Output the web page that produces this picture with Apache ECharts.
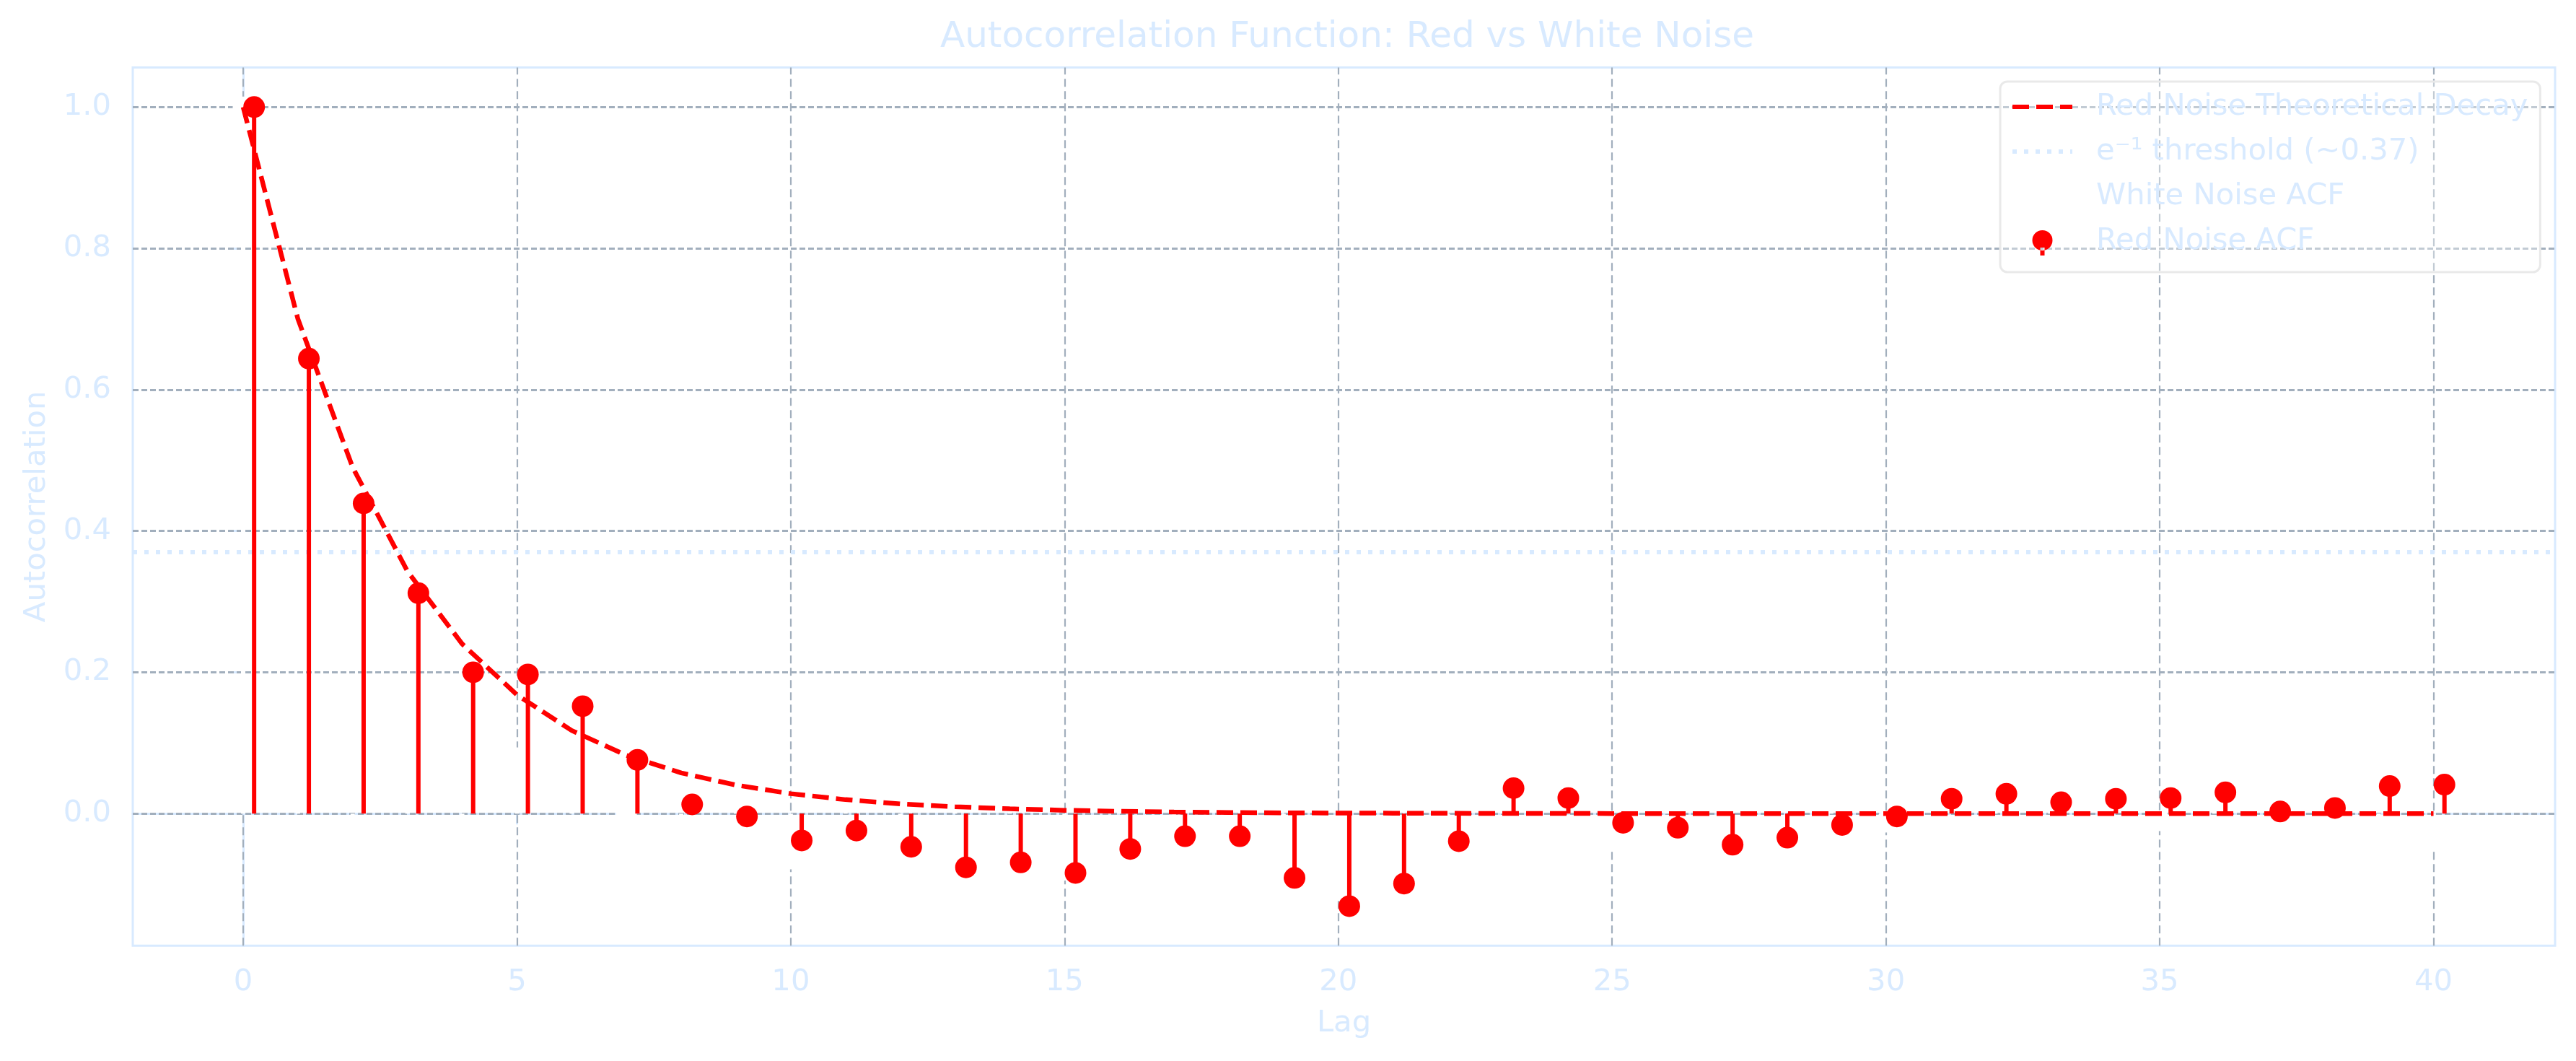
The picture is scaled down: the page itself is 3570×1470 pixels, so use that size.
<!DOCTYPE html>
<html>
<head>
<meta charset="utf-8">
<script src="https://cdn.jsdelivr.net/npm/echarts@6/dist/echarts.min.js"></script>
<style>
html,body{margin:0;padding:0;background:#ffffff;}
#chart{width:3570px;height:1470px;}
</style>
</head>
<body>
<div id="chart"></div>
<script>
// ---- data ----
const lags = [0,1,2,3,4,5,6,7,8,9,10,11,12,13,14,15,16,17,18,19,20,21,22,23,24,25,26,27,28,29,30,31,32,33,34,35,36,37,38,39,40];
const redNoiseAcf = [1.0, 0.644, 0.439, 0.312, 0.200, 0.197, 0.152, 0.076, 0.013, -0.004,
  -0.038, -0.024, -0.047, -0.076, -0.069, -0.084, -0.050, -0.032, -0.032, -0.091,
  -0.131, -0.099, -0.039, 0.036, 0.022, -0.013, -0.020, -0.044, -0.034, -0.016,
  -0.004, 0.021, 0.028, 0.016, 0.021, 0.022, 0.030, 0.003, 0.008, 0.039, 0.041];
// White noise ACF is drawn in white (only visible where it hides grid lines)
const whiteNoiseAcf = [1.0, 0.04, -0.03, 0.05, -0.04, 0.079, 0.03, 0.0, -0.05, 0.03,
  -0.064, 0.02, -0.03, 0.04, 0.03, -0.080, 0.02, -0.04, 0.05, -0.03,
  -0.108, 0.04, -0.02, 0.03, -0.05, -0.037, 0.02, 0.04, -0.03, 0.03,
  -0.012, -0.04, 0.03, 0.02, -0.03, -0.010, 0.04, -0.02, 0.03, -0.03, -0.039];
const theoreticalDecay = [1.0, 0.7, 0.49, 0.343, 0.2401, 0.1681, 0.1176, 0.0824, 0.0576, 0.0404,
  0.0282, 0.0198, 0.0138, 0.0097, 0.0068, 0.0047, 0.0033, 0.0023, 0.0016, 0.0011,
  0.0008, 0.0006, 0.0004, 0.0003, 0.0002, 0.0001, 0.0001, 0.0001, 0, 0,
  0, 0, 0, 0, 0, 0, 0, 0, 0, 0, 0];
const thresholdValue = 0.3679;
const redStemOffset = 0.2;
const xTicks = [0,5,10,15,20,25,30,35,40];
const yTicks = [0.0,0.2,0.4,0.6,0.8,1.0];
const seriesNames = ['Red Noise Theoretical Decay','e\u207B\u00B9 threshold (~0.37)','White Noise ACF','Red Noise ACF'];

// ---- styling ----
const LB = '#d8eaff';
const RED = '#ff0000';
const GRIDC = '#a2afbd';
const FONT = 'DejaVu Sans';
const FS = 41.7;

// legend handle shapes (box 83 x 42)
const ICON_DASHED = 'path://M0 0 M83 42 M0 18 L23 18 L23 24 L0 24 Z M33 18 L56 18 L56 24 L33 24 Z M66 18 L83 18 L83 24 L66 24 Z';
const ICON_DOTTED = 'path://M0 0 M83 42 M0 18 L6 18 L6 24 L0 24 Z M16 18 L22 18 L22 24 L16 24 Z M32 18 L38 18 L38 24 L32 24 Z M48 18 L54 18 L54 24 L48 24 Z M64 18 L70 18 L70 24 L64 24 Z M80 18 L83 18 L83 24 L80 24 Z';
const ICON_STEM = 'path://M0 0 M83 42 M27.5 20 A14 14 0 1 0 55.5 20 A14 14 0 1 0 27.5 20 Z M38.5 30 L44.5 30 L44.5 41 L38.5 41 Z';

const chart = echarts.init(document.getElementById('chart'), null, {renderer:'canvas'});

function stemRender(color){
  return function(params, api){
    const x = api.value(0), y = api.value(1);
    const p0 = api.coord([x, 0]);
    const p1 = api.coord([x, y]);
    return {type:'line', shape:{x1:p0[0], y1:p0[1], x2:p1[0], y2:p1[1]},
            style:{stroke:color, lineWidth:6, lineCap:'butt'}};
  };
}

const redPts = lags.map((l,i)=>[l + redStemOffset, redNoiseAcf[i]]);
const whitePts = lags.map((l,i)=>[l, whiteNoiseAcf[i]]);
const theoryPts = lags.map((l,i)=>[l, theoreticalDecay[i]]);

const option = {
  animation:false,
  backgroundColor:'#ffffff',
  title:{
    text:'Autocorrelation Function: Red vs White Noise',
    left:1862, top:22, textAlign:'center',
    textStyle:{color:LB, fontSize:50, fontWeight:'normal', fontFamily:FONT}
  },
  grid:{left:184, right:29, top:93.5, bottom:159.7, containLabel:false,
        show:true, borderColor:LB, borderWidth:3, backgroundColor:'transparent'},
  legend:{
    orient:'vertical', left:2772, top:113,
    padding:[14,17,22,17], itemGap:20, itemWidth:83, itemHeight:42,
    backgroundColor:'rgba(255,255,255,0.35)', borderColor:'#e9e9e9', borderWidth:3, borderRadius:10,
    selectedMode:false, symbolKeepAspect:true,
    textStyle:{color:LB, fontSize:FS, fontFamily:FONT, padding:[8,0,0,28]},
    data:[
      {name:seriesNames[0], icon:ICON_DASHED, itemStyle:{color:RED}},
      {name:seriesNames[1], icon:ICON_DOTTED, itemStyle:{color:LB}},
      {name:seriesNames[2], icon:'circle', itemStyle:{color:'#ffffff'}},
      {name:seriesNames[3], icon:ICON_STEM, itemStyle:{color:RED}}
    ]
  },
  xAxis:{
    type:'value', min:-2.016, max:42.22,
    axisLine:{show:true, lineStyle:{color:LB, width:3}},
    axisTick:{show:true, customValues:xTicks, length:15, lineStyle:{color:LB, width:3}},
    axisLabel:{customValues:xTicks, color:LB, fontSize:FS, fontFamily:FONT, margin:30},
    splitLine:{show:false},
    name:'Lag', nameLocation:'middle', nameGap:87,
    nameTextStyle:{color:LB, fontSize:FS, fontFamily:FONT}
  },
  yAxis:{
    type:'value', min:-0.187, max:1.056,
    axisLine:{show:true, lineStyle:{color:LB, width:3}},
    axisTick:{show:true, customValues:yTicks, length:15, lineStyle:{color:LB, width:3}},
    axisLabel:{customValues:yTicks, color:LB, fontSize:FS, fontFamily:FONT, margin:30,
               formatter:(v)=>Number(v).toFixed(1)},
    splitLine:{show:false},
    name:'Autocorrelation', nameLocation:'middle', nameGap:112, nameRotate:90,
    nameTextStyle:{color:LB, fontSize:FS, fontFamily:FONT}
  },
  series:[
    { // grid lines
      name:'gridlines', type:'line', data:[], z:1, silent:true,
      markLine:{silent:true, symbol:['none','none'], label:{show:false},
        animation:false, z:1,
        data: xTicks.map(v=>({xAxis:v, lineStyle:{color:GRIDC, width:2.2, type:[11,6]}}))
          .concat(yTicks.map(v=>({yAxis:v, lineStyle:{color:GRIDC, width:2.8, type:[8,4]}})))
      }
    },
    { // e^-1 threshold
      name:seriesNames[1], type:'line', data:[], z:2, symbol:'none',
      lineStyle:{color:LB, width:6, type:[6,10]},
      itemStyle:{color:LB},
      markLine:{silent:true, symbol:['none','none'], label:{show:false}, animation:false, z:2,
        lineStyle:{color:LB, width:6, type:[6,10]},
        data:[{yAxis:thresholdValue}]}
    },
    { // white noise stems
      name:'White Noise stems', type:'custom', z:3, data:whitePts,
      encode:{x:0, y:1}, renderItem:stemRender('#ffffff'), silent:true
    },
    {
      name:seriesNames[2], type:'scatter', z:3, data:whitePts, symbol:'circle', symbolSize:29,
      itemStyle:{color:'#ffffff', opacity:1}, silent:true
    },
    { // red noise stems
      name:'Red Noise stems', type:'custom', z:4, data:redPts,
      encode:{x:0, y:1}, renderItem:stemRender(RED), silent:true
    },
    {
      name:seriesNames[3], type:'scatter', z:5, data:redPts, symbol:'circle', symbolSize:30,
      itemStyle:{color:RED, opacity:1}, silent:true
    },
    {
      name:seriesNames[0], type:'line', z:6, data:theoryPts, symbol:'none', showSymbol:false,
      lineStyle:{color:RED, width:6.5, type:[23,10]}, itemStyle:{color:RED}, silent:true
    }
  ]
};
chart.setOption(option);
</script>
</body>
</html>
